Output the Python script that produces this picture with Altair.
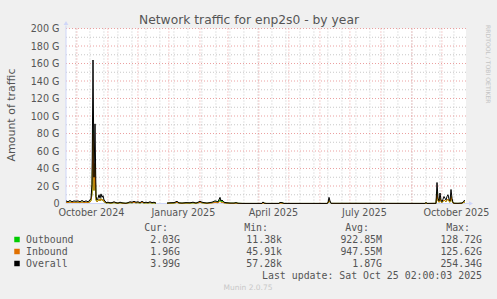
import altair as alt
import pandas as pd

# ---------------- data ----------------
START = pd.Timestamp("2024-09-20 02:00:00")
END = pd.Timestamp("2025-10-25 02:00:00")

day_offset = [0, 2, 4, 6, 8, 10, 12, 14, 16, 18, 20, 22, 24, 25, 26, 27, 28, 29, 30, 31,
              32, 33, 34, 35, 36, 37, 38, 39, 40, 42, 44, 46, 48, 50, 52, 54, 56, 58, 60, 62,
              64, 66, 68, 70, 72, 74, 76, 78, 80, 82, 84, 86, 88, 90, 91, 100, 101, 104, 108, 111,
              113, 116, 120, 124, 127, 130, 134, 136, 138, 141, 146, 149, 152, 154, 155, 156, 158, 160, 164, 168,
              170, 172, 177, 196, 197, 198, 200, 213, 214, 216, 218, 261, 262, 263, 264, 265, 359, 360, 361, 370,
              371, 372, 373, 374, 375, 376, 377, 378, 379, 380, 381, 382, 383, 384, 385, 386, 387, 388, 392, 396,
              397, 398, 399]

overall_g = [3, 2, 3.5, 2, 3, 2.5, 3, 2, 3.5, 2, 3, 2, 4, 6, 22, 164, 30, 91, 8, 4,
             6, 10, 6, 11, 7, 9, 4, 3, 1, 1.5, 0.8, 1, 2, 1, 0.5, 1.5, 0.8, 0.5, 0.3, 1,
             2, 1.5, 2.5, 1.5, 2, 1, 2.5, 1, 1.5, 1, 2, 1, 1.5, 0.5, None, None, 0.5, 0.8, 1, 2.5,
             0.8, 0.5, 1, 0.8, 1.5, 0.5, 2.5, 1.5, 1, 0.5, 1.5, 3, 2, 7, 3, 4, 1.5, 1, 0.5, 0.5,
             1, 0.3, 0.1, 0.1, 1.8, 0.5, 0.1, 0.1, 1.2, 1.0, 0.1, 0.1, 1, 7, 3, 0.2, 0.1, 1.2, 0.1, 0.2,
             24, 6, 3, 12, 4, 2, 5, 8, 6, 4, 8, 10, 5, 3, 16, 6, 1, 0.3, 0.2, 0.5,
             2, 3, 3.5]

inbound_g = [1.5, 1, 1.8, 1, 1.4, 1.2, 1.6, 1, 1.7, 1, 1.5, 1, 2, 3, 11, 80, 15, 46, 4, 2,
             3, 5, 3, 5.5, 3.5, 4.5, 2, 1.5, 0.5, 0.7, 0.4, 0.5, 1, 0.5, 0.3, 0.7, 0.4, 0.2, 0.1, 0.5,
             1, 0.8, 1.2, 0.7, 1, 0.5, 1.3, 0.5, 0.7, 0.5, 1, 0.5, 0.8, 0.3, None, None, 0.2, 0.4, 0.5, 1.2,
             0.4, 0.2, 0.5, 0.4, 0.8, 0.2, 1.2, 0.7, 0.5, 0.2, 0.6, 1.2, 0.8, 2.5, 1.2, 1.5, 0.6, 0.5, 0.2, 0.2,
             0.4, 0.1, 0.05, 0.05, 0.6, 0.2, 0.05, 0.05, 0.4, 0.3, 0.05, 0.05, 0.5, 3.5, 1.5, 0.1, 0.05, 0.6, 0.05, 0.1,
             11, 3, 1.5, 6, 2, 1, 2.5, 4, 3, 2, 4, 5, 2.5, 1.5, 8, 3, 0.5, 0.1, 0.1, 0.2,
             1, 1.5, 1.8]

outbound_g = [1.5, 1, 1.7, 1, 1.6, 1.3, 1.4, 1, 1.8, 1, 1.5, 1, 2, 3, 11, 84, 15, 45, 4, 2,
              3, 5, 3, 5.5, 3.5, 4.5, 2, 1.5, 0.5, 0.8, 0.4, 0.5, 1, 0.5, 0.2, 0.8, 0.4, 0.3, 0.2, 0.5,
              1, 0.7, 1.3, 0.8, 1, 0.5, 1.2, 0.5, 0.8, 0.5, 1, 0.5, 0.7, 0.2, None, None, 0.3, 0.4, 0.5, 1.3,
              0.4, 0.3, 0.5, 0.4, 0.7, 0.3, 1.3, 0.8, 0.5, 0.3, 0.9, 1.8, 1.2, 4.5, 1.8, 2.5, 0.9, 0.5, 0.3, 0.3,
              0.6, 0.2, 0.05, 0.05, 1.2, 0.3, 0.05, 0.05, 0.8, 0.7, 0.05, 0.05, 0.5, 3.5, 1.5, 0.1, 0.05, 0.6, 0.05, 0.1,
              13, 3, 1.5, 6, 2, 1, 2.5, 4, 3, 2, 4, 5, 2.5, 1.5, 8, 3, 0.5, 0.2, 0.1, 0.3,
              1, 1.5, 1.7]

series_names = ["Outbound", "Inbound", "Overall"]
series_colors = ["#00CC00", "#E07000", "#000000"]
series_values = [outbound_g, inbound_g, overall_g]

y_major = [20, 40, 60, 80, 100, 120, 140, 160, 180, 200]
y_minor = [10, 30, 50, 70, 90, 110, 130, 150, 170, 190]
y_labels = [0, 20, 40, 60, 80, 100, 120, 140, 160, 180, 200]

month_lines = pd.date_range("2024-10-01", "2025-10-01", freq="MS")
biweek_lines = pd.date_range("2024-09-30", "2025-10-20", freq="14D")
label_dates = [(2024, 10, 15), (2025, 1, 15), (2025, 4, 15), (2025, 7, 15), (2025, 10, 15)]

legend_cur = ["2.03G", "1.96G", "3.99G"]
legend_min = ["11.38k", "45.91k", "57.28k"]
legend_avg = ["922.85M", "947.55M", "1.87G"]
legend_max = ["128.72G", "125.62G", "254.34G"]

TITLE = "Network traffic for enp2s0 - by year"
Y_TITLE = "Amount of traffic"
LAST_UPDATE = "Last update: Sat Oct 25 02:00:03 2025"
FOOTER = "Munin 2.0.75"
WATERMARK = "RRDTOOL / TOBI OETIKER"

# ---------------- layout ----------------
OX, OY = 66, 28.5          # plot origin in the page
W, H = 400, 175
TXT = "#555555"
AXC = "#CFD6F8"

rows = []
for name, vals in zip(series_names, series_values):
    for d, v in zip(day_offset, vals):
        rows.append({"t": START + pd.Timedelta(days=d), "v": v, "series": name})
df = pd.DataFrame(rows)


def dt(ts):
    return alt.DateTime(year=ts.year, month=ts.month, date=ts.day, hours=ts.hour)


xscale = alt.Scale(domain=[dt(START), dt(END)])
yscale = alt.Scale(domain=[0, 200], nice=False, zero=True)
xaxis = alt.Axis(values=[alt.DateTime(year=a, month=b, date=c) for a, b, c in label_dates],
                 format="%B %Y", ticks=False, tickSize=0, domain=False, grid=False,
                 labelFont="DejaVu Sans", labelFontSize=9.6, labelColor=TXT,
                 labelPadding=4, labelFlush=False, labelOverlap=False, title=None)
yaxis = alt.Axis(values=y_labels, labelExpr="datum.value == 0 ? '0' : datum.value + ' G'",
                 ticks=False, tickSize=0, domain=False, grid=False,
                 labelFont="DejaVu Sans", labelFontSize=9.6, labelColor=TXT,
                 labelPadding=7, title=None)
X = alt.X("t:T", scale=xscale, axis=xaxis)
Y = alt.Y("v:Q", scale=yscale, axis=yaxis)

layers = []

# grid
gy_minor = pd.DataFrame({"v": y_minor})
gy_major = pd.DataFrame({"v": y_major})
gx_minor = pd.DataFrame({"t": biweek_lines})
gx_major = pd.DataFrame({"t": month_lines})
layers.append(alt.Chart(gy_minor).mark_rule(color="#C8C8C8", strokeDash=[1, 2], strokeWidth=1).encode(y=Y))
layers.append(alt.Chart(gx_minor).mark_rule(color="#C8C8C8", strokeDash=[1, 2], strokeWidth=1).encode(x=X))
layers.append(alt.Chart(gy_major).mark_rule(color="#EBA0A0", strokeDash=[1, 2], strokeWidth=1).encode(y=Y))
layers.append(alt.Chart(gx_major).mark_rule(color="#EBA0A0", strokeDash=[1, 2], strokeWidth=1).encode(x=X))

# axis lines and arrows
one = pd.DataFrame({"a": [0]})
layers.append(alt.Chart(one).mark_rule(color=AXC, strokeWidth=1).encode(
    x=alt.value(0), y=alt.value(-3), y2=alt.value(H)))
layers.append(alt.Chart(one).mark_rule(color=AXC, strokeWidth=1).encode(
    x=alt.value(0), x2=alt.value(W + 5), y=alt.value(H)))

# data lines
for name, col in zip(series_names, series_colors):
    layers.append(
        alt.Chart(df).transform_filter(alt.datum.series == name)
        .mark_line(color=col, strokeWidth=1, invalid="break-paths-show-domains")
        .encode(x=X, y=Y)
    )

layers.append(alt.Chart(one).mark_point(shape="triangle-up", filled=True, color=AXC, size=22, opacity=1).encode(
    x=alt.value(0), y=alt.value(-5.5)))
layers.append(alt.Chart(one).mark_point(shape="triangle-right", filled=True, color=AXC, size=22, opacity=1).encode(
    x=alt.value(W + 5), y=alt.value(H)))


def txt(s, x, y, size=9.9, color=TXT, font="DejaVu Sans Mono", align="left", angle=0):
    return alt.Chart(pd.DataFrame({"s": [s]})).mark_text(
        align=align, baseline="middle", font=font, fontSize=size, color=color, angle=angle
    ).encode(x=alt.value(x - OX), y=alt.value(y - OY), text="s:N")


layers.append(txt(TITLE, 249, 19.5, size=12.3, font="DejaVu Sans", align="center"))
layers.append(txt(Y_TITLE, 12, 115, size=11, font="DejaVu Sans", align="center", angle=270))
layers.append(txt(WATERMARK, 488, 25, size=6.1, font="DejaVu Sans", color="#C4C4C4", angle=90))
layers.append(txt(FOOTER, 248, 287.7, size=7.5, font="DejaVu Sans", color="#C8C8C8", align="center"))

# legend
hdr_y = 227.5
for head, xr in zip(["Cur:", "Min:", "Avg:", "Max:"], [168, 268, 369, 470]):
    layers.append(txt(head, xr, hdr_y, align="right"))
for i, (name, col) in enumerate(zip(series_names, series_colors)):
    ry = 239.5 + 12 * i
    layers.append(alt.Chart(one).mark_square(color=col, size=30, opacity=1).encode(
        x=alt.value(17 - OX), y=alt.value(ry - OY)))
    layers.append(txt(name, 26, ry))
    layers.append(txt(legend_cur[i], 180, ry, align="right"))
    layers.append(txt(legend_min[i], 282, ry, align="right"))
    layers.append(txt(legend_avg[i], 382, ry, align="right"))
    layers.append(txt(legend_max[i], 482, ry, align="right"))
layers.append(txt(LAST_UPDATE, 482, 275.5, align="right"))

chart = alt.layer(*layers).properties(
    width=W, height=H,
    autosize=alt.AutoSizeParams(type="none"),
    padding={"left": OX, "top": OY, "right": 497 - OX - W, "bottom": 299 - OY - H},
    background="#F0F0F0",
).configure_view(fill="white", stroke=None)

chart.save("out.html", embed_options={"renderer": "svg", "actions": False})
